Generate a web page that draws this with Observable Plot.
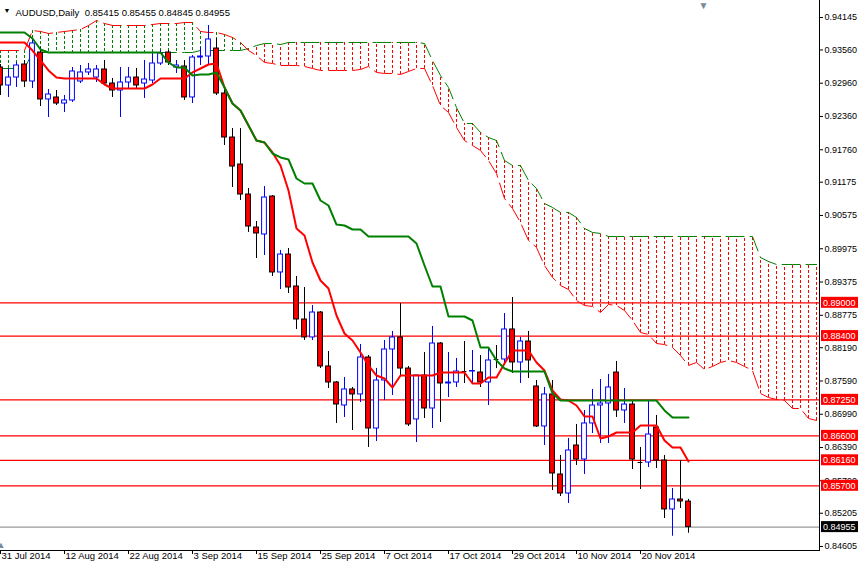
<!DOCTYPE html>
<html><head><meta charset="utf-8">
<script src="https://cdn.jsdelivr.net/npm/d3@7"></script>
<script src="https://cdn.jsdelivr.net/npm/@observablehq/plot@0.6"></script>
<style>
html,body{margin:0;padding:0;background:#fff;}
#chart{width:858px;height:566px;overflow:hidden;}
</style></head><body><div id="chart"></div>
<script>
const headerText = "AUDUSD,Daily  0.85415 0.85455 0.84845 0.84955";
const dateLabels = ["31 Jul 2014","12 Aug 2014","22 Aug 2014","3 Sep 2014","15 Sep 2014","25 Sep 2014","7 Oct 2014","17 Oct 2014","29 Oct 2014","10 Nov 2014","20 Nov 2014"];
const dateTickBars = [0,8,16,24,32,40,48,56,64,72,80];
const priceTicks = [0.94145,0.93560,0.92960,0.92360,0.91760,0.91175,0.90575,0.89975,0.89375,0.88775,0.88190,0.87590,0.86990,0.86390,0.85790,0.85205,0.84605];
const levels = [0.8900,0.8840,0.8725,0.8660,0.8616,0.8570];
const lastClose = 0.84955;

const open = [0.93244,0.92919,0.93063,0.93298,0.92991,0.93514,0.92667,0.92703,0.92594,0.92649,
0.92991,0.93154,0.93063,0.93208,0.92955,0.92829,0.92973,0.93063,0.92955,0.93009,
0.93316,0.93514,0.93244,0.93262,0.92703,0.93424,0.93442,0.93586,0.92775,0.91981,
0.91494,0.90953,0.90358,0.90232,0.90917,0.89547,0.89871,0.89294,0.88699,0.88375,
0.88825,0.87852,0.87563,0.87148,0.87437,0.87347,0.88014,0.86733,0.87599,0.88158,
0.88375,0.87815,0.86896,0.87689,0.87094,0.88266,0.87545,0.87563,0.87761,0.87761,
0.87743,0.87563,0.87978,0.87978,0.88519,0.87924,0.88302,0.87491,0.86770,0.87347,
0.85904,0.85561,0.86427,0.86174,0.86824,0.87148,0.87184,0.87743,0.87058,0.87166,
0.86120,0.86120,0.86752,0.86156,0.85273,0.85453,0.85415];
const high = [0.93298,0.93226,0.93334,0.93370,0.93767,0.93604,0.92847,0.92829,0.92739,0.93244,
0.93280,0.93316,0.93280,0.93370,0.93045,0.93244,0.93244,0.93226,0.93370,0.93496,
0.93550,0.93550,0.93370,0.93370,0.93460,0.93604,0.94001,0.93767,0.92865,0.92144,
0.92144,0.91062,0.90466,0.91098,0.90935,0.89943,0.89980,0.89475,0.89276,0.88952,
0.88843,0.88122,0.87581,0.87653,0.87473,0.88248,0.88050,0.87815,0.88320,0.88483,
0.88988,0.87852,0.87689,0.88104,0.88573,0.88284,0.88104,0.87996,0.88302,0.88140,
0.88050,0.88176,0.88230,0.88807,0.89096,0.88375,0.88483,0.87599,0.87473,0.87599,
0.86247,0.86553,0.86806,0.87058,0.87437,0.87617,0.87707,0.87942,0.87455,0.87238,
0.86391,0.87220,0.86968,0.86247,0.85651,0.86156,0.85455];
const low = [0.92739,0.92703,0.92883,0.92883,0.92865,0.92540,0.92342,0.92558,0.92432,0.92613,
0.92955,0.93099,0.92973,0.92919,0.92703,0.92342,0.92865,0.92865,0.92685,0.92955,
0.93280,0.93280,0.93136,0.92649,0.92594,0.93280,0.93280,0.92739,0.91837,0.91080,
0.90845,0.90268,0.89799,0.89853,0.89475,0.89240,0.89168,0.88519,0.88320,0.88320,
0.87815,0.87455,0.86824,0.86932,0.86697,0.87202,0.86391,0.86499,0.87238,0.87329,
0.87689,0.86770,0.86481,0.86914,0.86733,0.86842,0.87292,0.87473,0.87545,0.87545,
0.87473,0.87148,0.87815,0.87906,0.87725,0.87545,0.87635,0.86752,0.86427,0.85615,
0.85507,0.85381,0.86066,0.85904,0.86643,0.86463,0.86463,0.86932,0.86824,0.85994,
0.85633,0.86030,0.86012,0.85110,0.84790,0.85291,0.84845];
const close = [0.92919,0.93063,0.93280,0.92991,0.93677,0.92667,0.92757,0.92594,0.92649,0.93172,
0.93154,0.93208,0.93208,0.92955,0.92829,0.92973,0.93063,0.92919,0.93027,0.93316,
0.93496,0.93334,0.93280,0.92703,0.93424,0.93442,0.93749,0.92775,0.91981,0.91458,
0.90953,0.90376,0.90250,0.90899,0.89547,0.89871,0.89276,0.88699,0.88375,0.88825,
0.87852,0.87563,0.87166,0.87437,0.87347,0.88014,0.86733,0.87599,0.88158,0.88375,
0.87815,0.86806,0.87689,0.87094,0.88266,0.87545,0.87563,0.87761,0.87761,0.87770,
0.87563,0.87960,0.87978,0.88519,0.87924,0.88302,0.87960,0.86770,0.87347,0.85922,
0.85561,0.86337,0.86174,0.86824,0.87148,0.87184,0.87473,0.87058,0.87166,0.86174,
0.86120,0.86625,0.86156,0.85273,0.85453,0.85417,0.84955];

const tenkan = [0.93695,0.93695,0.93695,0.93695,0.93550,0.93370,0.93190,0.93063,0.93045,0.93045,
0.93045,0.93045,0.93045,0.92937,0.92865,0.92865,0.92865,0.92865,0.92865,0.92937,
0.93045,0.93045,0.93045,0.93045,0.93154,0.93226,0.93298,0.93316,0.92883,0.92594,
0.92468,0.92198,0.91927,0.91891,0.91711,0.91476,0.91026,0.90340,0.90214,0.89727,
0.89402,0.89258,0.88771,0.88447,0.88320,0.88104,0.87870,0.87689,0.87635,0.87473,
0.87689,0.87689,0.87689,0.87689,0.87689,0.87743,0.87743,0.87743,0.87743,0.87545,
0.87545,0.87653,0.87653,0.87906,0.88140,0.88140,0.88140,0.87924,0.87779,0.87419,
0.87256,0.87238,0.87148,0.86950,0.86950,0.86553,0.86589,0.86661,0.86661,0.86661,
0.86788,0.86788,0.86788,0.86517,0.86391,0.86391,0.86138];
const kijun = [0.93875,0.93875,0.93875,0.93875,0.93767,0.93568,0.93514,0.93514,0.93514,0.93514,
0.93514,0.93514,0.93514,0.93514,0.93514,0.93514,0.93514,0.93514,0.93514,0.93514,
0.93514,0.93334,0.93244,0.93244,0.93099,0.93117,0.93117,0.93154,0.92883,0.92594,
0.92468,0.92198,0.91927,0.91891,0.91693,0.91621,0.91585,0.91242,0.91152,0.91152,
0.90845,0.90755,0.90412,0.90394,0.90322,0.90322,0.90196,0.90196,0.90196,0.90196,
0.90196,0.90196,0.90070,0.89673,0.89294,0.89294,0.88753,0.88753,0.88753,0.88681,
0.88194,0.88194,0.87960,0.87815,0.87761,0.87761,0.87761,0.87761,0.87761,0.87365,
0.87238,0.87238,0.87238,0.87238,0.87238,0.87238,0.87238,0.87238,0.87238,0.87238,
0.87238,0.87238,0.87238,0.87058,0.86932,0.86932,0.86932];
const spanA = [0.93550,0.93550,0.93550,0.93550,0.93911,0.93893,0.93857,0.93875,0.93893,0.93911,
0.93929,0.94001,0.94091,0.94037,0.94001,0.94001,0.94001,0.94001,0.94001,0.94019,
0.94037,0.94037,0.94037,0.94055,0.94055,0.93893,0.93875,0.93875,0.93839,0.93785,
0.93695,0.93550,0.93460,0.93334,0.93316,0.93280,0.93280,0.93280,0.93262,0.93226,
0.93190,0.93190,0.93190,0.93190,0.93190,0.93208,0.93262,0.93154,0.93136,0.93136,
0.93117,0.93172,0.93226,0.93226,0.92919,0.92558,0.92432,0.92162,0.91927,0.91837,
0.91747,0.91567,0.91332,0.90881,0.90701,0.90448,0.90124,0.89998,0.89673,0.89457,
0.89312,0.89240,0.89042,0.88952,0.88934,0.88825,0.88970,0.88952,0.88861,0.88681,
0.88465,0.88429,0.88266,0.88248,0.88194,0.88050,0.87870,0.87924,0.87797,0.87852,
0.87924,0.87960,0.87924,0.87852,0.87779,0.87365,0.87292,0.87256,0.87238,0.87094,
0.87094,0.86914,0.86878];
const spanB = [0.93226,0.93226,0.93226,0.93226,0.93514,0.93514,0.93514,0.93514,0.93514,0.93514,
0.93514,0.93514,0.93514,0.93514,0.93514,0.93514,0.93514,0.93514,0.93514,0.93514,
0.93514,0.93514,0.93514,0.93514,0.93514,0.93550,0.93550,0.93550,0.93550,0.93550,
0.93550,0.93586,0.93640,0.93677,0.93677,0.93658,0.93695,0.93695,0.93695,0.93695,
0.93695,0.93695,0.93695,0.93695,0.93695,0.93695,0.93695,0.93695,0.93695,0.93695,
0.93695,0.93695,0.93695,0.93677,0.93370,0.93099,0.92883,0.92522,0.92234,0.92234,
0.92072,0.91981,0.91927,0.91567,0.91476,0.91476,0.91206,0.91062,0.90791,0.90719,
0.90629,0.90629,0.90539,0.90340,0.90268,0.90250,0.90196,0.90196,0.90196,0.90196,
0.90196,0.90196,0.90196,0.90196,0.90196,0.90196,0.90196,0.90196,0.90196,0.90196,
0.90196,0.90196,0.90196,0.90196,0.90196,0.89817,0.89745,0.89691,0.89691,0.89691,
0.89691,0.89691,0.89691];

const W = 858, H = 566, mR = 39, mB = 16;
const bars = open.map((o, i) => ({i, o, h: high[i], l: low[i], c: close[i], up: close[i] > open[i]}));
const dojis = bars.filter(d => d.o === d.c);
const cloud = spanA.map((a, i) => ({i, a, b: spanB[i]}));
const lineIdx = d3.range(open.length);
const font = "'Liberation Sans', Arial, sans-serif";

const chart = Plot.plot({
  width: W, height: H,
  marginLeft: 0, marginRight: mR, marginTop: 0, marginBottom: mB,
  style: {fontFamily: font, fontSize: "9px", color: "#000", background: "#fff", overflow: "visible"},
  color: {type: "identity"},
  x: {type: "linear", domain: [0, (W - mR) / 8], ticks: dateTickBars, tickFormat: () => "", tickSize: 4, line: true, label: null},
  y: {type: "linear", domain: [0.84533, 0.94452], axis: "right", ticks: priceTicks, tickFormat: d => d.toFixed(5), tickSize: 3, tickPadding: 2, line: true, label: null},
  marks: [
    Plot.ruleX(cloud, {x: "i", y1: "a", y2: "b", stroke: d => d.a >= d.b ? "#008000" : "#ff0000", strokeWidth: 1, strokeDasharray: "3,2"}),
    Plot.line(cloud, {x: "i", y: "b", stroke: "#008000", strokeWidth: 1, strokeDasharray: "18,6"}),
    Plot.line(cloud, {x: "i", y: "a", stroke: "#ff0000", strokeWidth: 1, strokeDasharray: "18,6"}),
    Plot.ruleY(levels, {stroke: "#ff0000", strokeWidth: 1.2}),
    Plot.ruleY([lastClose], {stroke: "#808080", strokeWidth: 1}),
    Plot.ruleX(bars, {x: "i", y1: "l", y2: "h", stroke: d => d.up ? "#0000ff" : "#000000", strokeWidth: 1}),
    Plot.rect(bars, {x1: d => d.i - 0.3, x2: d => d.i + 0.3, y1: "o", y2: "c", fill: d => d.up ? "#ffffff" : "#ff0000", stroke: d => d.up ? "#0000ff" : "#000000", strokeWidth: 1}),
    Plot.ruleY(dojis, {y: "o", x1: d => d.i - 0.3, x2: d => d.i + 0.3, stroke: "#000000"}),
    Plot.line(lineIdx, {x: i => i, y: i => tenkan[i], stroke: "#ff0000", strokeWidth: 2}),
    Plot.line(lineIdx, {x: i => i, y: i => kijun[i], stroke: "#008000", strokeWidth: 2}),
    Plot.text(dateTickBars, {x: d => d, text: (d, i) => dateLabels[i], frameAnchor: "bottom", textAnchor: "start", dx: 1, dy: 8, fill: "#000", fontSize: 9.5}),
    Plot.text([headerText], {frameAnchor: "top-left", text: d => d, textAnchor: "start", dx: 15, dy: 9, fill: "#000", fontSize: 9.5}),
    Plot.text(["\u25BC"], {frameAnchor: "top-left", text: d => d, textAnchor: "start", dx: 3, dy: 8, fontSize: 7, fill: "#000"}),
    // MetaTrader chart-shift marker (top) and scroll marker (bottom-left)
    Plot.text(["\u25BC"], {frameAnchor: "top-left", text: d => d, textAnchor: "middle", dx: 703, dy: 1, fontSize: 10, fill: "#778899"}),
    Plot.text(["\u25B2"], {frameAnchor: "bottom-left", text: d => d, textAnchor: "start", dx: -4, dy: -3, fontSize: 9, fill: "#778899"})
  ]
});
document.getElementById("chart").appendChild(chart);

// price-level labels on the right axis, placed with the chart's own y scale
const ys = chart.scale("y");
const svg = d3.select(chart);
const g = svg.append("g").attr("font-family", font).attr("font-size", "9px").attr("text-anchor", "start");
const boxX = W - mR + 2;
levels.map(v => ({v, bg: "#ff0000"})).concat([{v: lastClose, bg: "#000000"}]).forEach(({v, bg}) => {
  const yy = ys.apply(v);
  g.append("rect").attr("x", boxX).attr("y", yy - 5.5).attr("width", W - boxX).attr("height", 11).attr("fill", bg);
  g.append("text").attr("x", boxX + 2).attr("y", yy + 3.3).attr("text-anchor", "start").attr("fill", "#fff").text(v.toFixed(5));
});
</script></body></html>
